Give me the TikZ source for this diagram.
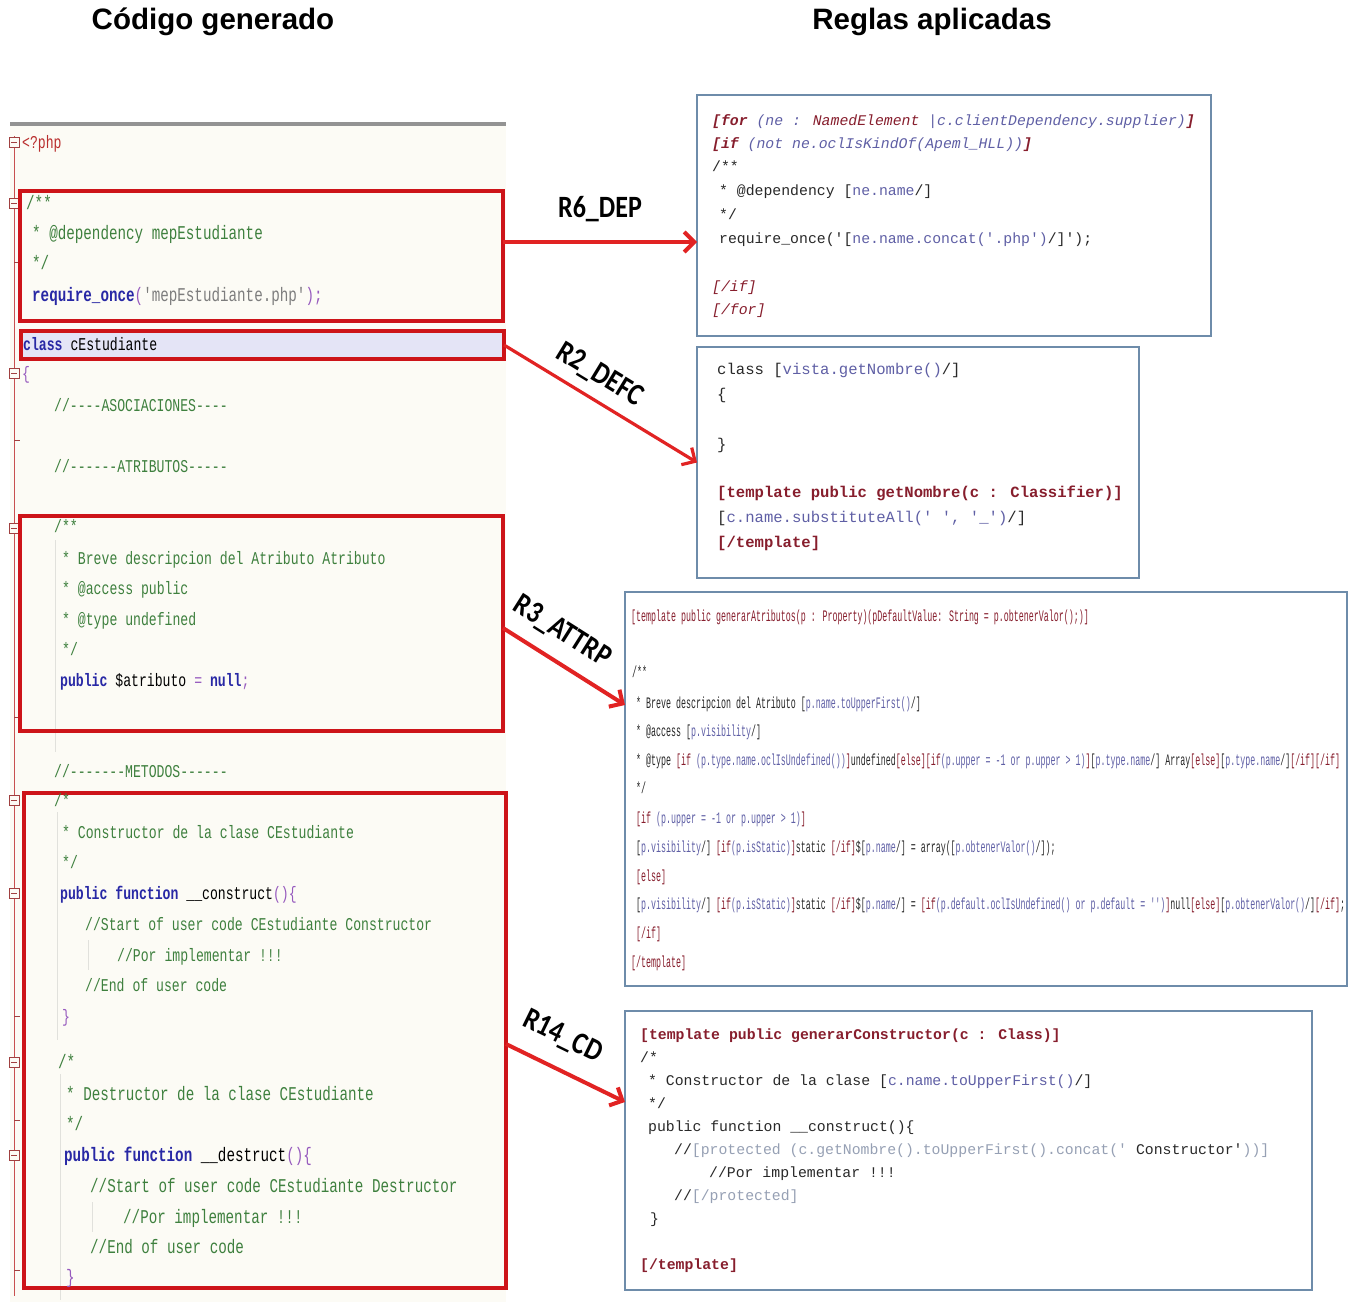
\documentclass[tikz,border=0pt]{standalone}
\usepackage{fontspec}
\usetikzlibrary{arrows.meta}
\setmainfont{Liberation Sans}
\newfontfamily\monoL[FakeStretch=0.73,Ligatures=TeXOff]{Liberation Mono}
\newfontfamily\monoR[Ligatures=TeXOff]{Liberation Mono}
\newfontfamily\monoC[FakeStretch=0.52,Ligatures=TeXOff]{Liberation Mono}
\newfontfamily\lblfont[FakeStretch=0.84]{Carlito}

\definecolor{cmtgreen}{RGB}{62,128,62}
\definecolor{kwblue}{RGB}{40,40,165}
\definecolor{punct}{RGB}{150,90,190}
\definecolor{strgray}{RGB}{125,125,125}
\definecolor{phpred}{RGB}{185,45,45}
\definecolor{boxred}{RGB}{205,20,25}
\definecolor{arrowred}{RGB}{225,35,35}
\definecolor{panelbg}{RGB}{252,251,245}
\definecolor{classhl}{RGB}{228,228,246}
\definecolor{tplred}{RGB}{135,30,45}
\definecolor{exprblue}{RGB}{95,95,165}
\definecolor{codedark}{RGB}{40,40,40}
\definecolor{frameblue}{RGB}{110,140,170}
\definecolor{protgray}{RGB}{150,160,180}
\definecolor{foldred}{RGB}{200,80,80}
\definecolor{guide}{RGB}{225,225,220}

% syntax colouring helpers
\newcommand\cmt[1]{\textcolor{cmtgreen}{#1}}
\newcommand\kw[1]{\textcolor{kwblue}{\bfseries #1}}
\newcommand\pun[1]{\textcolor{punct}{#1}}
\newcommand\cstr[1]{\textcolor{strgray}{#1}}
\newcommand\tkw[1]{\textcolor{tplred}{#1}}
\newcommand\xp[1]{\textcolor{exprblue}{#1}}

% one code line: name, x, vertical centre, text
\newcommand\LL[4]{\node[lcode] (#1) at (#2,#3+6.3) {#4};}
\newcommand\LLb[4]{\node[lcodebig] (#1) at (#2,#3+6.8) {#4};}
\newcommand\RA[4]{\node[rcode] (#1) at (#2,#3+5.2) {#4};}
\newcommand\RB[4]{\node[bcode] (#1) at (#2,#3+5.5) {#4};}
\newcommand\RC[4]{\node[ccode] (#1) at (#2,#3+5) {#4};}

\begin{document}
\begin{tikzpicture}[x=1pt,y=-1pt,
  lcode/.style={anchor=base west, inner sep=0, text=cmtgreen, font=\monoL\fontsize{18}{18}\selectfont},
  lcodebig/.style={lcode, font=\monoL\fontsize{19.5}{19}\selectfont},
  rcode/.style={anchor=base west, inner sep=0, text=codedark, font=\monoR\fontsize{14.8}{15}\selectfont},
  bcode/.style={rcode, font=\monoR\fontsize{15.6}{16}\selectfont},
  ccode/.style={anchor=base west, inner sep=0, text=codedark, font=\monoC\fontsize{16}{16}\selectfont},
  redbox/.style={draw=boxred, line width=4pt, inner sep=0, outer sep=0},
  rulebox/.style={draw=frameblue, line width=1.8pt, fill=white, inner sep=0, outer sep=0},
  redarrow/.style={draw=arrowred, line width=4pt, -{Straight Barb[length=10pt,width=20pt]}},
  lbl/.style={inner sep=0, text=black, font=\lblfont\bfseries\fontsize{31}{31}\selectfont},
  title/.style={inner sep=0, font=\bfseries\fontsize{29.5}{30}\selectfont},
  foldbox/.style={draw=foldred!80!black, fill=panelbg, line width=0.8pt}
]
\useasboundingbox (0,0) rectangle (1354,1307);
\fill[white] (0,0) rectangle (1354,1307);

% headings
\node[title] (t1) at (213,22) {Código generado};
\node[title] (t2) at (932,22) {Reglas aplicadas};

% ---------- generated PHP code (editor view) ----------
\fill[panelbg] (10,124) rectangle (506,1302);
\draw[gray!85, line width=4pt] (10,124) -- (506,124);
\draw[foldred, line width=1pt] (14,136) -- (14,1296);
\foreach \ty in {262,440,717,1016,1120,1270}
  \draw[foldred!80!black, line width=0.8pt] (14,\ty) -- (20,\ty);
\foreach \fy in {142,203,373,528,800,893,1062,1155}{
  \draw[foldbox] (9,\fy-5) rectangle (19,\fy+5);
  \draw[foldred!80!black, line width=0.8pt] (11,\fy) -- (17,\fy);
}
% indent guides
\draw[guide, line width=1pt] (55,540) -- (55,752);
\draw[guide, line width=1pt] (57,812) -- (57,1040);
\draw[guide, line width=1pt] (88,940) -- (88,970);
\draw[guide, line width=1pt] (60,1074) -- (60,1300);
\draw[guide, line width=1pt] (92,1202) -- (92,1232);

% highlighted regions
\node[redbox, minimum width=483pt, minimum height=130pt] (rb1) at (261.5,256) {};
\node[redbox, fill=classhl, minimum width=483pt, minimum height=28pt] (rb2) at (262.5,345) {};
\node[redbox, minimum width=483pt, minimum height=215pt] (rb3) at (261.5,623.5) {};
\node[redbox, minimum width=482pt, minimum height=495pt] (rb4) at (265,1040.5) {};

\LL{php}{22}{142}{\textcolor{phpred}{<?php}}
\LLb{d1}{26}{203}{/**}
\LLb{d2}{32}{233}{* @dependency mepEstudiante}
\LLb{d3}{32}{263}{*/}
\LLb{d4}{32}{295}{\kw{require\_once}\pun{(}\cstr{'mepEstudiante.php'}\pun{);}}
\LL{cls}{23}{344}{\kw{class} \textcolor{black}{cEstudiante}}
\LL{ob}{22}{373}{\pun{\{}}
\LL{asoc}{54}{405}{//----ASOCIACIONES----}
\LL{atr}{54}{466}{//------ATRIBUTOS-----}
\LL{a1}{54}{526}{/**}
\LL{a2}{62}{558}{* Breve descripcion del Atributo Atributo}
\LL{a3}{62}{588}{* @access public}
\LL{a4}{62}{619}{* @type undefined}
\LL{a5}{62}{649}{*/}
\LL{a6}{60}{680}{\kw{public} \textcolor{black}{\$atributo} \pun{=} \kw{null}\pun{;}}
\LL{met}{54}{771}{//-------METODOS------}
\LL{c1}{54}{800}{/*}
\LL{c2}{62}{832}{* Constructor de la clase CEstudiante}
\LL{c3}{62}{862}{*/}
\LL{c4}{60}{893}{\kw{public function} \textcolor{black}{\_\_construct}\pun{()\{}}
\LL{c5}{85}{924}{//Start of user code CEstudiante Constructor}
\LL{c6}{117}{955}{//Por implementar !!!}
\LL{c7}{85}{985}{//End of user code}
\LL{c8}{62}{1016}{\pun{\}}}
\LLb{e1}{58}{1062}{/*}
\LLb{e2}{66}{1094}{* Destructor de la clase CEstudiante}
\LLb{e3}{66}{1124}{*/}
\LLb{e4}{64}{1155}{\kw{public function} \textcolor{black}{\_\_destruct}\pun{()\{}}
\LLb{e5}{90}{1186}{//Start of user code CEstudiante Destructor}
\LLb{e6}{123}{1217}{//Por implementar !!!}
\LLb{e7}{90}{1247}{//End of user code}
\LLb{e8}{66}{1277}{\pun{\}}}

% ---------- applied transformation rules ----------
\node[rulebox, minimum width=514pt, minimum height=241pt] (boxA) at (954,215.5) {};
\node[rulebox, minimum width=442pt, minimum height=231pt] (boxB) at (918,462.5) {};
\node[rulebox, minimum width=722pt, minimum height=394pt] (boxC) at (986,789) {};
\node[rulebox, minimum width=687pt, minimum height=279pt] (boxD) at (968.5,1150.5) {};

% R6_DEP
\RA{fa1}{712}{120}{\itshape\tkw{\bfseries[for} \xp{(ne :} \tkw{NamedElement} \xp{|c.clientDependency.supplier)}\tkw{\bfseries]}}
\RA{fa2}{712}{143}{\itshape\tkw{\bfseries[if} \xp{(not ne.oclIsKindOf(Apeml\_HLL))}\tkw{\bfseries]}}
\RA{fa3}{712}{166}{/**}
\RA{fa4}{719}{190}{* @dependency [\xp{ne.name}/]}
\RA{fa5}{719}{214}{*/}
\RA{fa6}{719}{238}{require\_once('[\xp{ne.name.concat('.php')}/]');}
\RA{fa7}{712}{286}{\itshape\tkw{[/if]}}
\RA{fa8}{712}{309}{\itshape\tkw{[/for]}}

% R2_DEFC
\RB{fb1}{717}{369}{class [\xp{vista.getNombre()}/]}
\RB{fb2}{717}{394}{\{}
\RB{fb3}{717}{444}{\}}
\RB{fb4}{717}{492}{\bfseries\tkw{[template public getNombre(c : Classifier)]}}
\RB{fb5}{717}{517}{[\xp{c.name.substituteAll(' ', '\_')}/]}
\RB{fb6}{717}{542}{\bfseries\tkw{[/template]}}

% R3_ATTRP
\RC{fc1}{631}{616}{\tkw{[template public generarAtributos(p : Property)(pDefaultValue: String = p.obtenerValor();)]}}
\RC{fc2}{632}{672}{/**}
\RC{fc3}{636}{703}{* Breve descripcion del Atributo [\xp{p.name.toUpperFirst()}/]}
\RC{fc4}{636}{731}{* @access [\xp{p.visibility}/]}
\RC{fc5}{636}{760}{* @type \tkw{[if} \xp{(p.type.name.oclIsUndefined())}\tkw{]}undefined\tkw{[else][if}\xp{(p.upper = -1 or p.upper > 1)}\tkw{]}[\xp{p.type.name}/] Array\tkw{[else]}[\xp{p.type.name}/]\tkw{[/if][/if]}}
\RC{fc6}{636}{788}{*/}
\RC{fc7}{636}{818}{\tkw{[if} \xp{(p.upper = -1 or p.upper > 1)}\tkw{]}}
\RC{fc8}{636}{847}{[\xp{p.visibility}/] \tkw{[if}\xp{(p.isStatic)}\tkw{]}static \tkw{[/if]}\$[\xp{p.name}/] = array([\xp{p.obtenerValor()}/]);}
\RC{fc9}{636}{876}{\tkw{[else]}}
\RC{fc10}{636}{904}{[\xp{p.visibility}/] \tkw{[if}\xp{(p.isStatic)}\tkw{]}static \tkw{[/if]}\$[\xp{p.name}/] = \tkw{[if}\xp{(p.default.oclIsUndefined() or p.default = '')}\tkw{]}null\tkw{[else]}[\xp{p.obtenerValor()}/]\tkw{[/if]};}
\RC{fc11}{636}{933}{\tkw{[/if]}}
\RC{fc12}{631}{962}{\tkw{[/template]}}

% R14_CD
\RA{fd1}{640}{1034}{\bfseries\tkw{[template public generarConstructor(c : Class)]}}
\RA{fd2}{640}{1057}{/*}
\RA{fd3}{648}{1080}{* Constructor de la clase [\xp{c.name.toUpperFirst()}/]}
\RA{fd4}{648}{1103}{*/}
\RA{fd5}{648}{1126}{public function \_\_construct()\{}
\RA{fd6}{674}{1149}{//\textcolor{protgray}{[protected (c.getNombre().toUpperFirst().concat('} Constructor'\textcolor{protgray}{))]}}
\RA{fd7}{709}{1172}{//Por implementar !!!}
\RA{fd8}{674}{1195}{//\textcolor{protgray}{[/protected]}}
\RA{fd9}{650}{1218}{\}}
\RA{fd10}{640}{1264}{\bfseries\tkw{[/template]}}

% ---------- rule arrows ----------
\draw[redarrow] ([yshift=14pt]rb1.east) -- node[lbl, midway, sloped, above=18pt] (l6) {R6\_DEP} ([yshift=-26.5pt]boxA.west);
\draw[redarrow, line width=3.2pt] (rb2.east) -- node[lbl, pos=0.43, sloped, above=10pt] (l2) {R2\_DEFC} (boxB.west);
\draw[redarrow] ([yshift=-4.5pt]rb3.east) -- node[lbl, pos=0.36, sloped, above=14pt] (l3) {R3\_ATTRP} ([yshift=84pt]boxC.west);
\draw[redarrow] ([yshift=-3.5pt]rb4.east) -- node[lbl, pos=0.36, sloped, above=17pt] (l14) {R14\_CD} ([yshift=48.5pt]boxD.west);
\end{tikzpicture}
\end{document}
